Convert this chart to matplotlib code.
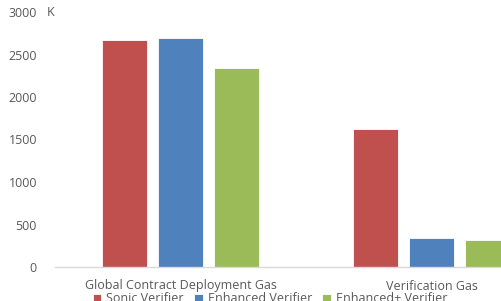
import matplotlib
matplotlib.use("Agg")
import matplotlib.pyplot as plt
import numpy as np

categories = ["Global Contract Deployment Gas", "Verification Gas"]
series_names = ["Sonic Verifier", "Enhanced Verifier", "Enhanced+ Verifier"]
sonic = [2676, 1627]
enhanced = [2690, 341]
enhanced_plus = [2345, 314]
yticks = [0, 500, 1000, 1500, 2000, 2500, 3000]

colors = ["#C0504D", "#4F81BD", "#9BBB59"]
text_color = "#595959"
plt.rcParams['font.family'] = ['Open Sans', 'DejaVu Sans']

W, H = 502, 301
fig = plt.figure(figsize=(W/100, H/100), dpi=100)
ax = fig.add_axes([55/W, 34/H, 502/W, 255/H])

x = np.arange(len(categories))
bw = 0.179
step = 0.223
for i, (vals, name) in enumerate(zip([sonic, enhanced, enhanced_plus], series_names)):
    ax.bar(x + (i-1)*step, vals, width=bw, color=colors[i], label=name,
           edgecolor="white", linewidth=0.6)

ax.set_xlim(-0.5, 1.5)
ax.set_ylim(0, 3000)
ax.set_yticks(yticks)
ax.set_yticklabels([str(v) for v in yticks], fontsize=9, color=text_color)
ax.set_xticks(x)
ax.set_xticklabels(categories, fontsize=9, color=text_color)
ax.tick_params(axis='both', length=0)
ax.tick_params(axis='y', pad=13)
ax.tick_params(axis='x', pad=9)
for s in ["top", "right", "left"]:
    ax.spines[s].set_visible(False)
ax.spines["bottom"].set_color("#D9D9D9")
ax.spines["bottom"].set_linewidth(1)

fig.text(47/W, 1-12/H, "K", fontsize=9, color=text_color, va="center", ha="left")

fig.legend(loc="center", bbox_to_anchor=(270/W, 1-299/H), ncol=3, frameon=False,
           fontsize=9, labelcolor=text_color, handlelength=0.7, handleheight=0.7,
           handletextpad=0.4, columnspacing=0.8)

fig.savefig("out.png", dpi=100)
